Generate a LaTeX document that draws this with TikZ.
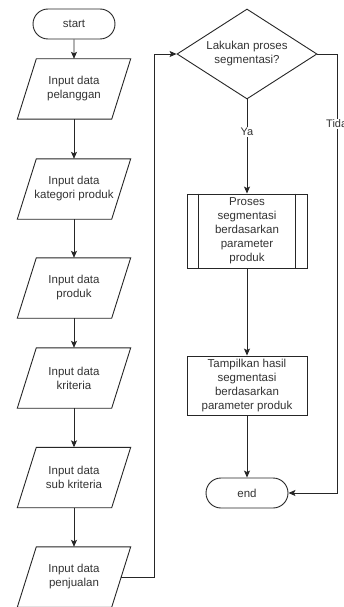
\documentclass[tikz,border=0pt]{standalone}
\usepackage{fontspec}
\setmainfont{Liberation Sans}
\usetikzlibrary{arrows.meta,shapes.geometric,shapes.misc}
\begin{document}
\begin{tikzpicture}[x=1pt,y=-1pt,
  every node/.style={font=\fontsize{11.5}{14}\selectfont, text=black!80, align=center},
  ln/.style={draw=black!85, line width=0.9pt},
  arr/.style={ln, -{Stealth[length=7pt,width=6pt,inset=1.5pt]}},
  term/.style={rounded rectangle, ln, minimum width=82pt, minimum height=30pt, inner sep=0pt},
  io/.style={minimum width=113pt, minimum height=60pt, inner sep=0pt},
  proc/.style={rectangle, ln, minimum width=120pt, inner sep=0pt},
  dec/.style={diamond, ln, minimum width=140pt, minimum height=90pt, aspect=1.556, inner sep=0pt},
  lbl/.style={fill=white, inner sep=1pt, font=\fontsize{11}{13}\selectfont}
]
\useasboundingbox (0,0) rectangle (344,607);
\fill[white] (0,0) rectangle (344,607);

\node[term] (start) at (74,24) {start};
\node[io] (p1) at (74,89) {Input data\\pelanggan};
\node[io] (p2) at (74,189) {Input data\\kategori produk};
\node[io] (p3) at (74,288) {Input data\\produk};
\node[io] (p4) at (74,378) {Input data\\kriteria};
\node[io] (p5) at (74,477.5) {Input data\\sub kriteria};
\node[io] (p6) at (74,577) {Input data\\penjualan};
\foreach \n in {p1,p2,p3,p4,p5,p6}{
  \draw[ln] ([xshift=19pt]\n.north west) -- (\n.north east) -- ([xshift=-19pt]\n.south east) -- (\n.south west) -- cycle;
}

\node[dec] (dec) at (247,54) {Lakukan proses\\segmentasi?};
\node[proc, minimum height=74pt] (proc) at (247,231) {Proses\\segmentasi\\berdasarkan\\parameter\\produk};
\draw[ln] ([xshift=12pt]proc.north west) -- ([xshift=12pt]proc.south west);
\draw[ln] ([xshift=-12pt]proc.north east) -- ([xshift=-12pt]proc.south east);
\node[proc, minimum height=59pt] (show) at (247,385.5) {Tampilkan hasil\\segmentasi\\berdasarkan\\parameter produk};
\node[term] (end) at (247,493) {end};

\coordinate (jL) at (154,54);
\coordinate (jR) at (337,54);

\draw[arr] (start) -- (p1);
\draw[arr] (p1) -- (p2);
\draw[arr] (p2) -- (p3);
\draw[arr] (p3) -- (p4);
\draw[arr] (p4) -- (p5);
\draw[arr] (p5) -- (p6);
\draw[arr] ([xshift=-9.5pt]p6.east) -| (jL) -- (dec.west);
\draw[arr] (dec.south) -- (proc.north);
\node[lbl] (ya) at (247,132) {Ya};
\draw[arr] (proc.south) -- (show.north);
\draw[arr] (show.south) -- (end.north);
\draw[arr] (dec.east) -- (jR) |- (end.east);
\node[lbl, anchor=west] (tidak) at (325,124) {Tidak};
\end{tikzpicture}
\end{document}
